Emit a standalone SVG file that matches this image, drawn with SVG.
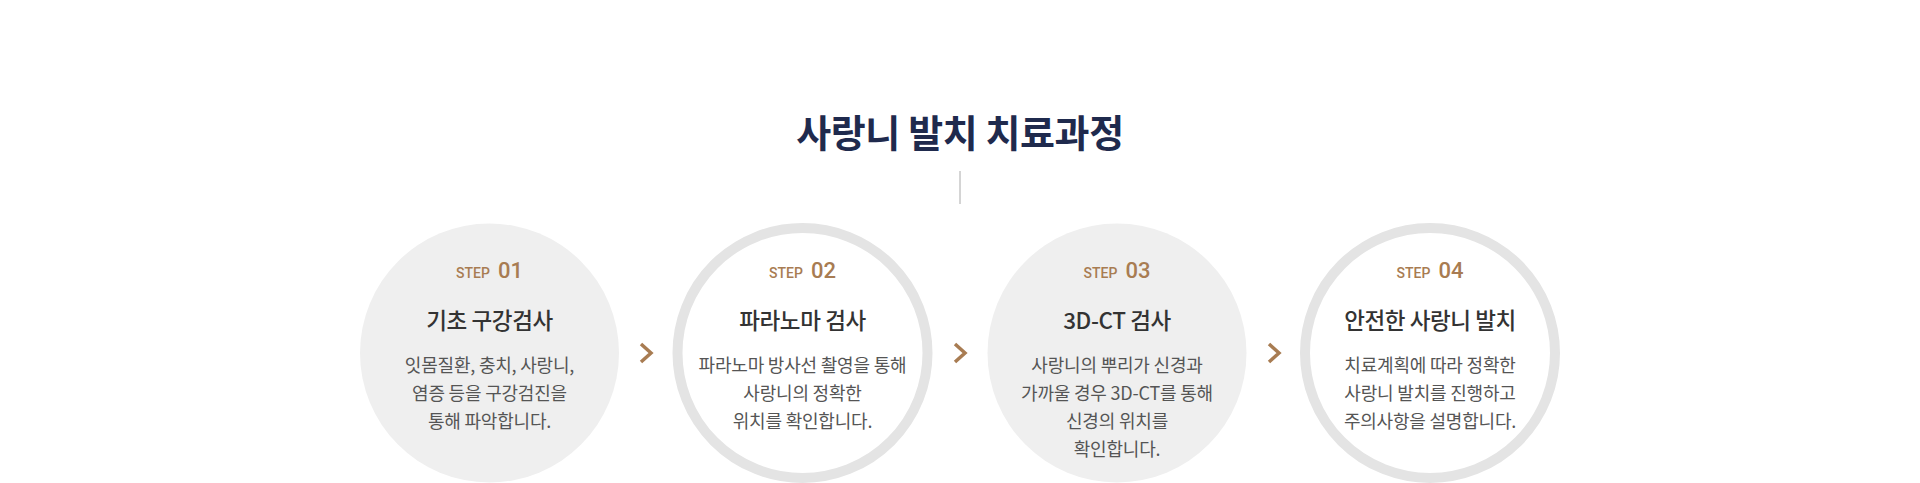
<svg xmlns="http://www.w3.org/2000/svg" width="1920" height="483" viewBox="0 0 1920 483">
<style>
.ttl{font-family:"Noto Sans CJK KR","Noto Sans",sans-serif;font-size:38px;font-weight:700;fill:#1f2a4d;letter-spacing:-0.4px}
.step{font-family:Roboto,"Noto Sans",sans-serif;font-size:14px;font-weight:500;fill:#a87c52}
.num{font-family:Roboto,"Noto Sans",sans-serif;font-size:22px;font-weight:500;fill:#a87c52}
.h{font-family:"Noto Sans CJK KR","Noto Sans",sans-serif;font-size:22.5px;font-weight:500;fill:#333;letter-spacing:-0.4px}
.d{font-family:"Noto Sans CJK KR","Noto Sans",sans-serif;font-size:18px;font-weight:400;fill:#555;letter-spacing:-0.2px}
.fill{fill:#efefef}
.ring{fill:#fff;stroke:#e4e4e4;stroke-width:10}
.chev{fill:none;stroke:#a87c52;stroke-width:3.5;stroke-linecap:butt;stroke-linejoin:miter}
</style>
<rect width="1920" height="483" fill="#fff"/>
<g id="title">
<text class="ttl" x="960" y="147" text-anchor="middle">사랑니 발치 치료과정</text>
<line x1="960" y1="171" x2="960" y2="204" stroke="#aaa" stroke-width="1"/>
</g>
<g id="step1">
<circle class="fill" cx="489.5" cy="353" r="129.5"/>
<text x="489.5" y="278" text-anchor="middle"><tspan class="step">STEP</tspan><tspan class="num" dx="8">01</tspan></text>
<text class="h" x="489.5" y="329" text-anchor="middle">기초 구강검사</text>
<text class="d" text-anchor="middle"><tspan x="489.5" y="372">잇몸질환, 충치, 사랑니,</tspan><tspan x="489.5" y="400">염증 등을 구강검진을</tspan><tspan x="489.5" y="428">통해 파악합니다.</tspan></text>
</g>
<g id="step2">
<circle class="ring" cx="802.5" cy="353" r="125"/>
<text x="802.5" y="278" text-anchor="middle"><tspan class="step">STEP</tspan><tspan class="num" dx="8">02</tspan></text>
<text class="h" x="802.5" y="329" text-anchor="middle">파라노마 검사</text>
<text class="d" text-anchor="middle"><tspan x="802.5" y="372">파라노마 방사선 촬영을 통해</tspan><tspan x="802.5" y="400">사랑니의 정확한</tspan><tspan x="802.5" y="428">위치를 확인합니다.</tspan></text>
</g>
<g id="step3">
<circle class="fill" cx="1117" cy="353" r="129.5"/>
<text x="1117" y="278" text-anchor="middle"><tspan class="step">STEP</tspan><tspan class="num" dx="8">03</tspan></text>
<text class="h" x="1117" y="329" text-anchor="middle">3D-CT 검사</text>
<text class="d" text-anchor="middle"><tspan x="1117" y="372">사랑니의 뿌리가 신경과</tspan><tspan x="1117" y="400">가까울 경우 3D-CT를 통해</tspan><tspan x="1117" y="428">신경의 위치를</tspan><tspan x="1117" y="456">확인합니다.</tspan></text>
</g>
<g id="step4">
<circle class="ring" cx="1430" cy="353" r="125"/>
<text x="1430" y="278" text-anchor="middle"><tspan class="step">STEP</tspan><tspan class="num" dx="8">04</tspan></text>
<text class="h" x="1430" y="329" text-anchor="middle">안전한 사랑니 발치</text>
<text class="d" text-anchor="middle"><tspan x="1430" y="372">치료계획에 따라 정확한</tspan><tspan x="1430" y="400">사랑니 발치를 진행하고</tspan><tspan x="1430" y="428">주의사항을 설명합니다.</tspan></text>
</g>
<g id="connectors">
<polyline class="chev" points="641,344 651,353 641,362"/>
<polyline class="chev" points="955,344 965,353 955,362"/>
<polyline class="chev" points="1269,344 1279,353 1269,362"/>
</g>
</svg>
